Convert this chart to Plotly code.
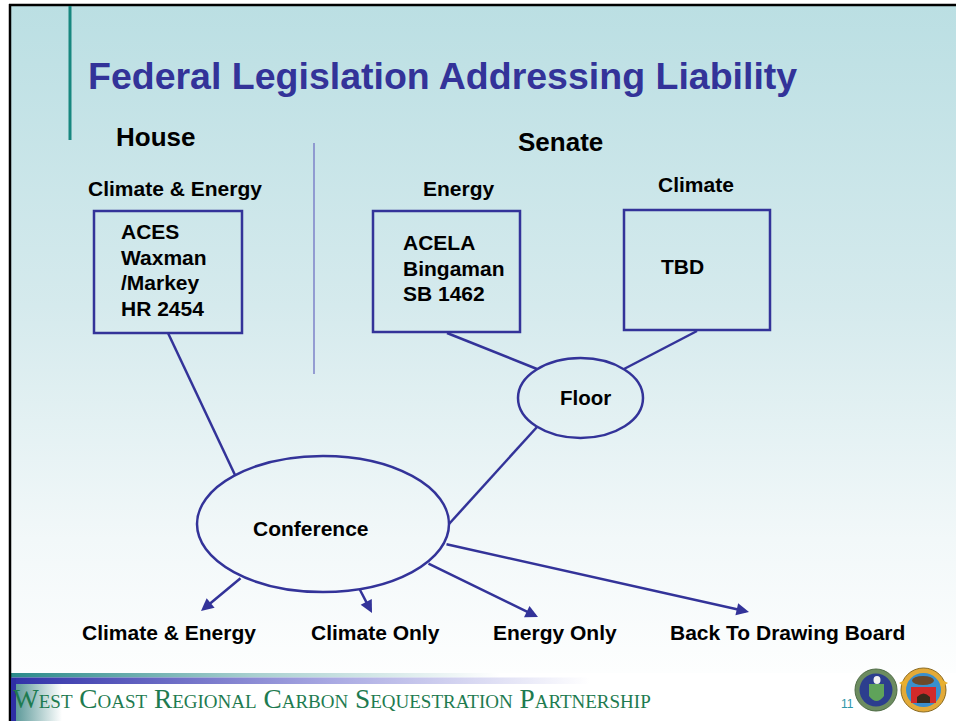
import plotly.graph_objects as go

# ---------------- data (texts of the diagram) ----------------
title_text = "Federal Legislation Addressing Liability"
chamber_labels = ["House", "Senate"]
committee_labels = ["Climate &amp; Energy", "Energy", "Climate"]
house_bill = ["ACES", "Waxman", "/Markey", "HR 2454"]
senate_energy_bill = ["ACELA", "Bingaman", "SB 1462"]
senate_climate_bill = ["TBD"]
stage_labels = ["Floor", "Conference"]
outcome_labels = ["Climate &amp; Energy", "Climate Only", "Energy Only", "Back To Drawing Board"]
footer_text = "West Coast Regional Carbon Sequestration Partnership"
page_number = "11"

# ---------------- layout constants ----------------
W, H = 956, 721
NAVY = "#333399"
FONT = "Liberation Sans, Arial, Helvetica, sans-serif"
SERIF = "Liberation Serif, Times New Roman, serif"

fig = go.Figure()


def grad_rect(x0, x1, y0, y1, kind, scale, start, stop):
    fig.add_trace(go.Scatter(
        x=[x0, x1, x1, x0, x0], y=[y0, y0, y1, y1, y0],
        mode="lines", line=dict(width=0), fill="toself",
        fillgradient=dict(type=kind, colorscale=scale, start=start, stop=stop),
        hoverinfo="skip", showlegend=False))


# slide background gradient
grad_rect(11, W, 6, 673, "vertical",
          [[0, "#BBDFE3"], [0.45, "#D5EAED"], [0.8, "#F2F8F9"], [1, "#FDFEFE"]], 6, 673)
# footer bands
grad_rect(11, 500, 673, 677.5, "horizontal",
          [[0, "#2A8A8A"], [0.5, "#A9D0D0"], [1, "#FFFFFF"]], 11, 500)
grad_rect(11, 590, 677.5, 684, "horizontal",
          [[0, "#3030A8"], [0.55, "#A8A8E2"], [1, "#FFFFFF"]], 11, 590)
grad_rect(16, 62, 684, H, "horizontal",
          [[0, "#5E9A9A"], [1, "#FFFFFF"]], 16, 62)

shapes = []
# slide border (top / left)
shapes.append(dict(type="line", x0=9, x1=W, y0=5, y1=5, line=dict(color="black", width=2.5)))
shapes.append(dict(type="line", x0=10, x1=10, y0=4, y1=H, line=dict(color="black", width=2.5)))
# left footer blue bar
shapes.append(dict(type="rect", x0=11, x1=16, y0=678, y1=H, fillcolor="#2E2EA4", line=dict(width=0)))
# teal title accent bar
shapes.append(dict(type="line", x0=70, x1=70, y0=6, y1=140, line=dict(color="#17877F", width=3)))
# house / senate divider
shapes.append(dict(type="line", x0=314, x1=314, y0=143, y1=374, line=dict(color="#7C82C8", width=1.5)))

box = dict(color=NAVY, width=2.5)
# bill boxes
shapes.append(dict(type="rect", x0=94, x1=242, y0=211, y1=333, line=box))
shapes.append(dict(type="rect", x0=373, x1=520, y0=211, y1=332, line=box))
shapes.append(dict(type="rect", x0=624, x1=770, y0=210, y1=330, line=box))
# ellipses
shapes.append(dict(type="circle", x0=518, x1=643, y0=358, y1=438, line=box))
shapes.append(dict(type="circle", x0=197, x1=449, y0=456, y1=592, line=box))
# connectors
for (xa, ya, xb, yb) in [(168, 333, 235, 475), (447, 333, 537, 369),
                         (697, 331, 624, 369), (537, 427, 449, 524)]:
    shapes.append(dict(type="line", x0=xa, y0=ya, x1=xb, y1=yb, line=box))

# logos (simplified seals)
shapes += [
    dict(type="circle", x0=855, x1=897, y0=669, y1=711, fillcolor="#6C8C60", line=dict(color="#4E6B45", width=1)),
    dict(type="circle", x0=859.5, x1=892.5, y0=673.5, y1=706.5, fillcolor="#2C3E8E", line=dict(width=0)),
    dict(type="path", path="M 869 684 L 884 684 L 884 696 Q 876.5 706 869 696 Z", fillcolor="#5FA35A", line=dict(width=0)),
    dict(type="circle", x0=873.5, x1=880.5, y0=676, y1=684, fillcolor="#F2F2F2", line=dict(width=0)),
    dict(type="circle", x0=901, x1=946, y0=668, y1=712, fillcolor="#E3AA38", line=dict(color="#8A6A20", width=1)),
    dict(type="circle", x0=906, x1=941, y0=673, y1=707, fillcolor="#3A8FCC", line=dict(width=0)),
    dict(type="rect", x0=911, x1=936, y0=687, y1=703, fillcolor="#D22A2A", line=dict(width=0)),
    dict(type="path", path="M 917 703 L 917 697 Q 923.5 690 930 697 L 930 703 Z", fillcolor="#3A2A1A", line=dict(width=0)),
    dict(type="circle", x0=912, x1=934, y0=676, y1=685, fillcolor="#6B4A2A", line=dict(width=0)),
    dict(type="path", path="M 899 683 L 907 679 L 906 687 Z", fillcolor="#E8B030", line=dict(width=0)),
    dict(type="path", path="M 948 683 L 940 679 L 941 687 Z", fillcolor="#E8B030", line=dict(width=0)),
]
for s in shapes:
    s.setdefault("layer", "above")
fig.update_layout(shapes=shapes)


def label(text, x, y, size, color="black", xanchor="left", family=FONT, weight="bold", **kw):
    fig.add_annotation(text=text, x=x, y=y, xref="x", yref="y", xanchor=xanchor,
                       yanchor="middle", showarrow=False, borderpad=0, borderwidth=0,
                       font=dict(family=family, size=size, color=color, weight=weight, **kw))


label(title_text, 88, 76, 37.5, color=NAVY)
label(chamber_labels[0], 116, 137, 26)
label(chamber_labels[1], 518, 142, 26)
label(committee_labels[0], 88, 188, 21)
label(committee_labels[1], 423, 188, 21)
label(committee_labels[2], 658, 184, 21)

for t, yy in zip(house_bill, [231, 257, 282, 308]):
    label(t, 121, yy, 21)
for t, yy in zip(senate_energy_bill, [242, 268, 293]):
    label(t, 403, yy, 21)
label(senate_climate_bill[0], 661, 266, 21)

label(stage_labels[0], 585, 397, 20.5, xanchor="center")
label(stage_labels[1], 311, 528, 21, xanchor="center")

for t, xx in zip(outcome_labels, [82, 311, 493, 670]):
    label(t, xx, 632, 21)

# arrows from the conference ellipse to outcomes
for (tx, ty, sx, sy) in [(201, 611, 242, 577), (372, 613, 359, 588),
                         (538, 617, 427, 563), (749, 612, 445, 544)]:
    fig.add_annotation(x=tx, y=ty, ax=sx, ay=sy, xref="x", yref="y", axref="x", ayref="y",
                       text="", showarrow=True, arrowhead=2, arrowsize=1, arrowwidth=2.5,
                       arrowcolor=NAVY, standoff=0, startstandoff=0)

# footer
label(footer_text, 13, 699, 27.3, color="#1E7B50", family=SERIF, weight="normal", variant="small-caps")
label(page_number, 841, 704, 12, color="#2E96A8", weight="normal")

fig.update_layout(
    width=W, height=H, margin=dict(l=0, r=0, t=0, b=0),
    paper_bgcolor="white", plot_bgcolor="white", showlegend=False,
    xaxis=dict(range=[0, W], visible=False, fixedrange=True),
    yaxis=dict(range=[H, 0], visible=False, fixedrange=True),
)

fig.write_html("out.html", config={"displayModeBar": False},
               post_script="document.body.style.margin='0';document.body.style.overflow='hidden';")
